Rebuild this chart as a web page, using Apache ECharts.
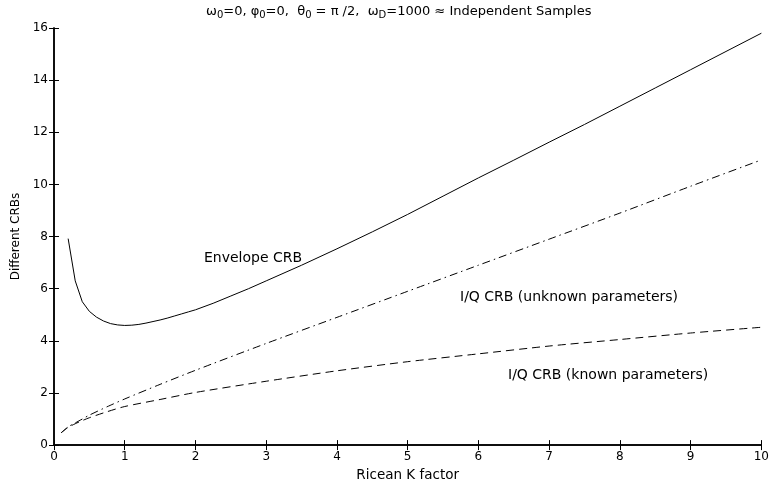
<!DOCTYPE html>
<html>
<head>
<meta charset="utf-8">
<script src="https://cdn.jsdelivr.net/npm/echarts@6/dist/echarts.min.js"></script>
<style>
  html, body { margin: 0; padding: 0; background: #fff; }
  #chart { width: 772px; height: 487px; }
</style>
</head>
<body>
<div id="chart"></div>
<script>
// Ricean K factor samples for the envelope bound
const kEnvelope = [0.2, 0.3, 0.4, 0.5, 0.6, 0.7, 0.8, 0.9, 1.0, 1.1, 1.2, 1.3, 1.4, 1.5, 1.6, 1.7, 1.8, 1.9, 2.0,
                   2.25, 2.5, 2.75, 3.0, 3.5, 4.0, 4.5, 5.0, 5.5, 6.0, 6.5, 7.0, 7.5, 8.0, 8.5, 9.0, 9.5, 10.0];
const crbEnvelope = [7.92, 6.30, 5.50, 5.13, 4.91, 4.76, 4.66, 4.61, 4.59, 4.60, 4.63, 4.68, 4.74, 4.80, 4.87, 4.95, 5.03, 5.11, 5.19,
                     5.44, 5.72, 6.00, 6.30, 6.90, 7.53, 8.18, 8.85, 9.55, 10.25, 10.93, 11.62, 12.30, 13.00, 13.70, 14.40, 15.10, 15.80];

// Ricean K factor samples for the I/Q bounds
const kIQ = [0.1, 0.2, 0.3, 0.4, 0.5, 0.75, 1.0, 1.5, 2.0, 3.0, 4.0, 5.0, 6.0, 7.0, 8.0, 9.0, 10.0];
const crbIQUnknown = [0.47, 0.70, 0.85, 1.00, 1.15, 1.47, 1.77, 2.33, 2.87, 3.90, 4.90, 5.90, 6.90, 7.90, 8.90, 9.93, 10.94];
const crbIQKnown = [0.47, 0.68, 0.82, 0.94, 1.05, 1.28, 1.48, 1.75, 2.02, 2.45, 2.85, 3.20, 3.50, 3.80, 4.05, 4.30, 4.52];

const kTicks = [0, 10, 1];   // min, max, step
const crbTicks = [0, 16, 2]; // min, max, step

const FONT = 'DejaVu Sans';

function pairs(xs, ys) { return xs.map((x, i) => [x, ys[i]]); }

const chart = echarts.init(document.getElementById('chart'));

const axisLine = { show: true, lineStyle: { color: '#000', width: 1.5 } };
const tick = { show: true, inside: true, length: 5, lineStyle: { color: '#000', width: 1 } };

function xAx(pos, showLabel) {
  return {
    type: 'value', position: pos, min: kTicks[0], max: kTicks[1], interval: kTicks[2],
    axisLine: axisLine, axisTick: tick, splitLine: { show: false },
    axisLabel: { show: showLabel, color: '#000', fontFamily: FONT, fontSize: 12, margin: 6 },
    name: showLabel ? 'Ricean K factor' : '',
    nameLocation: 'middle', nameGap: 20,
    nameTextStyle: { color: '#000', fontFamily: FONT, fontSize: 13.5 }
  };
}
function yAx(pos, showLabel) {
  return {
    type: 'value', position: pos, min: crbTicks[0], max: crbTicks[1], interval: crbTicks[2],
    axisLine: axisLine, axisTick: tick, splitLine: { show: false },
    axisLabel: { show: showLabel, color: '#000', fontFamily: FONT, fontSize: 12, margin: 6 },
    name: showLabel ? 'Different CRBs' : '',
    nameLocation: 'middle', nameGap: 25,
    nameTextStyle: { color: '#000', fontFamily: FONT, fontSize: 12 }
  };
}

const lineBase = { type: 'line', showSymbol: false, symbol: 'none', animation: false };

chart.setOption({
  backgroundColor: '#fff',
  animation: false,
  grid: { left: 54, right: 10, top: 28, bottom: 37 },
  xAxis: [xAx('bottom', true), xAx('top', false)],
  yAxis: [yAx('left', true), yAx('right', false)],
  series: [
    Object.assign({}, lineBase, {
      name: 'Envelope CRB', data: pairs(kEnvelope, crbEnvelope), smooth: false,
      lineStyle: { color: '#000', width: 1, type: 'solid' }
    }),
    Object.assign({}, lineBase, {
      name: 'I/Q CRB (unknown parameters)', data: pairs(kIQ, crbIQUnknown), smooth: 0.25,
      lineStyle: { color: '#000', width: 1, type: [8, 4, 1.5, 4] }
    }),
    Object.assign({}, lineBase, {
      name: 'I/Q CRB (known parameters)', data: pairs(kIQ, crbIQKnown), smooth: 0.25,
      lineStyle: { color: '#000', width: 1, type: [8, 5] }
    })
  ],
  graphic: [
    {
      type: 'text', left: 206, top: 5,
      style: {
        text: 'ω{s|0}=0, φ{s|0}=0,  θ{s|0} = π /2,  ω{s|D}=1000 ≈ Independent Samples',
        fontFamily: FONT, fontSize: 13, fill: '#000',
        rich: { s: { fontFamily: FONT, fontSize: 10, fill: '#000', padding: [7, 0, 0, 0] } }
      }
    },
    { type: 'text', left: 204, top: 251,
      style: { text: 'Envelope CRB', fontFamily: FONT, fontSize: 14, fill: '#000' } },
    { type: 'text', left: 460, top: 290,
      style: { text: 'I/Q CRB (unknown parameters)', fontFamily: FONT, fontSize: 14, fill: '#000' } },
    { type: 'text', left: 508, top: 368,
      style: { text: 'I/Q CRB (known parameters)', fontFamily: FONT, fontSize: 14, fill: '#000' } }
  ]
});
</script>
</body>
</html>
